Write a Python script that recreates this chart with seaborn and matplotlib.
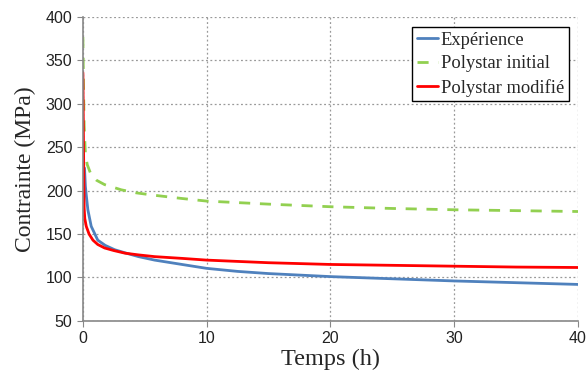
import pandas as pd
import seaborn as sns
import matplotlib.pyplot as plt

# Expérience
t_exp = [0.13, 0.2, 0.27, 0.4, 0.67, 1.2, 1.8, 2.56, 3.5, 4.5, 5.8, 8, 10, 12.5, 15, 20, 25, 30, 35, 40]
s_exp = [226, 205, 195, 178, 159, 143, 137, 132, 128, 124, 120, 115, 110.5, 107, 104.5, 101, 98.5, 96, 94, 92]

# Polystar initial
t_ini = [0, 0.05, 0.1, 0.2, 0.35, 0.67, 1.1, 1.75, 3.1, 4.3, 5.6, 8, 10, 15, 20, 25, 30, 35, 40]
s_ini = [377, 320, 275, 243, 230, 218, 212, 207, 201, 197.5, 195, 191, 188, 184.5, 181.5, 179.5, 178, 177, 176]

# Polystar modifié
t_mod = [0, 0.05, 0.1, 0.15, 0.27, 0.5, 0.81, 1.2, 1.75, 2.5, 3.4, 4.5, 5.8, 8, 10, 15, 20, 25, 30, 35, 40]
s_mod = [336, 250, 180, 168, 159, 150, 143, 138, 134, 131, 128, 126, 124, 122, 120, 117, 115, 114, 113, 112, 111.5]

x_ticks = [0, 10, 20, 30, 40]
y_ticks = [50, 100, 150, 200, 250, 300, 350, 400]

sns.set_style('white')
plt.rcParams['font.family'] = ['Liberation Sans', 'DejaVu Sans']

fig, ax = plt.subplots(figsize=(5.88, 3.88), dpi=100)
fig.subplots_adjust(left=0.141, right=0.983, bottom=0.173, top=0.956)

sns.lineplot(x=t_exp, y=s_exp, ax=ax, color='#4f81bd', lw=2, label='Expérience')
sns.lineplot(x=t_ini, y=s_ini, ax=ax, color='#92d050', lw=2, label='Polystar initial',
             linestyle=(0, (4, 3.5)))
sns.lineplot(x=t_mod, y=s_mod, ax=ax, color='#ff0000', lw=2, label='Polystar modifié')

ax.set_xlim(0, 40)
ax.set_ylim(50, 400)
ax.set_xticks(x_ticks)
ax.set_yticks(y_ticks)
ax.tick_params(labelsize=11.5, colors='#222222', length=4, color='#888888', direction='out',
               bottom=True, left=True)
ax.grid(True, linestyle=(0, (1.5, 2)), color='#999999', lw=0.9)
for side in ['top', 'right']:
    ax.spines[side].set_visible(False)
for side in ['left', 'bottom']:
    ax.spines[side].set_color('#888888')
    ax.spines[side].set_linewidth(1.2)

serif = ['Liberation Serif', 'DejaVu Serif']
ax.set_xlabel('Temps (h)', fontsize=17.5, family=serif, labelpad=2)
ax.set_ylabel('Contrainte (MPa)', fontsize=17, family=serif, labelpad=7)

leg = ax.legend(loc='upper right', bbox_to_anchor=(0.992, 0.985), prop={'family': serif, 'size': 13.3},
                frameon=True, fancybox=False, handlelength=1.15, handletextpad=0.15,
                borderpad=0.25, labelspacing=0.35, borderaxespad=0.3)
leg.get_frame().set_edgecolor('black')
leg.get_frame().set_linewidth(1.0)
leg.get_frame().set_alpha(1)

fig.savefig('out.png', dpi=100)
